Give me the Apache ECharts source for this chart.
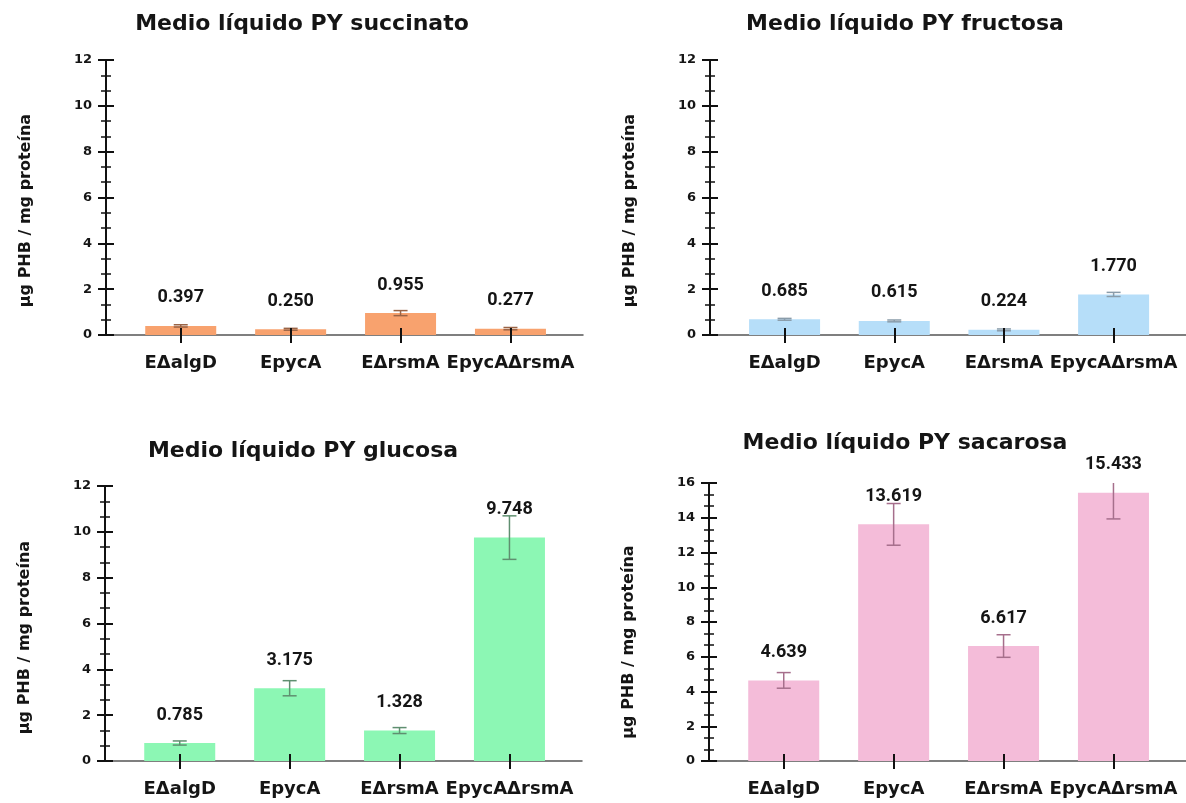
<!DOCTYPE html>
<html><head><meta charset="utf-8">
<script src="https://cdn.jsdelivr.net/npm/echarts@6/dist/echarts.min.js"></script>
<style>html,body{margin:0;padding:0;background:#fff}#c{width:1186px;height:803px}</style>
</head><body><div id="c"></div>
<script>
const categories = ['EΔalgD', 'EpycA', 'EΔrsmA', 'EpycAΔrsmA'];
const titles = ['Medio líquido PY succinato', 'Medio líquido PY fructosa', 'Medio líquido PY glucosa', 'Medio líquido PY sacarosa'];
const yName = 'µg PHB / mg proteína';
const succinato = [0.397, 0.250, 0.955, 0.277];
const succinatoErr = [0.05, 0.04, 0.11, 0.05];
const fructosa = [0.685, 0.615, 0.224, 1.770];
const fructosaErr = [0.04, 0.04, 0.04, 0.09];
const glucosa = [0.785, 3.175, 1.328, 9.748];
const glucosaErr = [0.09, 0.33, 0.13, 0.95];
const sacarosa = [4.639, 13.619, 6.617, 15.433];
const sacarosaErr = [0.45, 1.2, 0.65, 1.5];
const yMaxes = [12, 12, 12, 16];
const yInterval = 2;

const values = [succinato, fructosa, glucosa, sacarosa];
const errors = [succinatoErr, fructosaErr, glucosaErr, sacarosaErr];

// layout & styles
const grids = [
  {left: 106, top: 60, width: 477, height: 275},
  {left: 710, top: 60, width: 476, height: 275},
  {left: 105, top: 486, width: 477, height: 275},
  {left: 709, top: 483, width: 477, height: 278}
];
const titlePos = [{x: 297, y: 8}, {x: 900, y: 8}, {x: 298, y: 435}, {x: 900, y: 427}];
const nameShift = [13, 13, 14, 20];
const barColors = ['#F8A26E', '#B6DEF9', '#8CF7B4', '#F4BCD9'];
const errColors = ['#9A6446', '#8A9CAA', '#5F8F70', '#A66F8C'];
const txt = '#151515';
const uiFont = 'DejaVu Sans';
const idx = categories.map((c, i) => i);

const option = {
  animation: false,
  backgroundColor: '#fff',
  title: [], grid: [], xAxis: [], yAxis: [], series: []
};

for (let p = 0; p < 4; p++) {
  option.title.push({
    text: titles[p], left: titlePos[p].x, top: titlePos[p].y, textAlign: 'center',
    textStyle: {fontFamily: uiFont, fontWeight: 'bold', fontSize: 22, color: txt}
  });
  option.grid.push(Object.assign({containLabel: false}, grids[p]));
  const xBase = {
    type: 'value', gridIndex: p, position: 'bottom', min: -0.68, max: 3.66, splitLine: {show: false}
  };
  option.xAxis.push(Object.assign({}, xBase, {
    axisLine: {show: true, onZero: false, lineStyle: {color: '#555', width: 1.5}},
    axisTick: {show: true, customValues: idx, length: 8, lineStyle: {color: '#111', width: 2}},
    axisLabel: {show: true, customValues: idx, margin: 19, formatter: v => categories[Math.round(v)],
      fontFamily: uiFont, fontWeight: 'bold', fontSize: 18, color: txt}
  }));
  option.xAxis.push(Object.assign({}, xBase, {
    z: 5,
    axisLine: {show: false, onZero: false},
    axisTick: {show: true, inside: true, customValues: idx, length: 7, lineStyle: {color: '#111', width: 2}},
    axisLabel: {show: false}
  }));
  const yBase = {
    type: 'value', gridIndex: p, position: 'left', offset: 0, min: 0, max: yMaxes[p], interval: yInterval, splitLine: {show: false}
  };
  option.yAxis.push(Object.assign({}, yBase, {
    name: yName, nameLocation: 'middle', nameGap: 72,
    nameTextStyle: {fontFamily: uiFont, fontWeight: 'bold', fontSize: 16, color: txt,
      padding: [0, nameShift[p] * 2, 0, 0]},
    axisLine: {show: true, onZero: false, lineStyle: {color: '#111', width: 2}},
    axisTick: {show: true, length: 8, lineStyle: {color: '#111', width: 2}},
    minorTick: {show: true, splitNumber: 3, length: 5, lineStyle: {color: '#111', width: 1.5}},
    axisLabel: {margin: 14, fontFamily: uiFont, fontWeight: 'bold', fontSize: 13, color: txt}
  }));
  option.yAxis.push(Object.assign({}, yBase, {
    axisLine: {show: false, onZero: false},
    axisTick: {show: true, inside: true, length: 8, lineStyle: {color: '#111', width: 2}},
    minorTick: {show: true, splitNumber: 3, length: 5, lineStyle: {color: '#111', width: 1.5}},
    axisLabel: {show: false}
  }));
  option.series.push({
    type: 'bar', xAxisIndex: 2 * p, yAxisIndex: 2 * p, barWidth: 71,
    data: values[p].map((v, i) => [i, v]),
    itemStyle: {color: barColors[p]},
    label: {show: true, position: 'top', distance: 19, formatter: d => d.value[1].toFixed(3),
      fontFamily: 'Roboto', fontWeight: 'bold', fontSize: 18, color: txt}
  });
  option.series.push({
    type: 'custom', xAxisIndex: 2 * p, yAxisIndex: 2 * p, clip: true, z: 4,
    data: values[p].map((v, i) => [i, v, errors[p][i]]),
    encode: {x: 0, y: 1},
    renderItem: (params, api) => {
      const x = api.value(0), v = api.value(1), e = api.value(2);
      const hi = api.coord([x, v + e]), lo = api.coord([x, v - e]);
      const hw = 7;
      const st = {stroke: errColors[p], lineWidth: 1.5, fill: null};
      return {type: 'group', children: [
        {type: 'line', shape: {x1: hi[0], y1: hi[1], x2: lo[0], y2: lo[1]}, style: st},
        {type: 'line', shape: {x1: hi[0] - hw, y1: hi[1], x2: hi[0] + hw, y2: hi[1]}, style: st},
        {type: 'line', shape: {x1: lo[0] - hw, y1: lo[1], x2: lo[0] + hw, y2: lo[1]}, style: st}
      ]};
    }
  });
}

const chart = echarts.init(document.getElementById('c'), null, {renderer: 'canvas'});
chart.setOption(option);
</script>
</body></html>
